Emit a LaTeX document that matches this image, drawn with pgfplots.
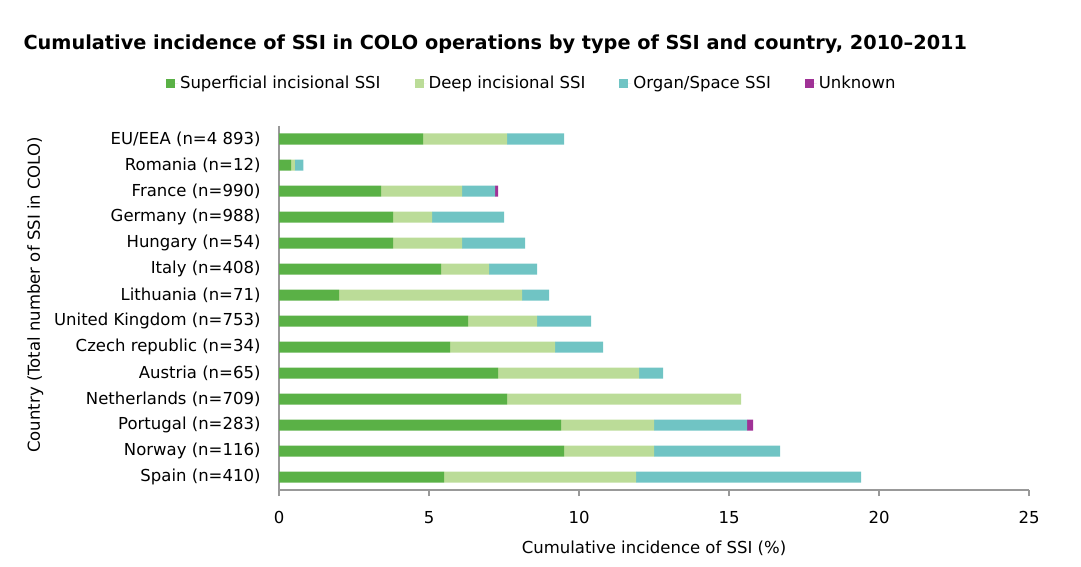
\documentclass[border=0pt]{standalone}
\usepackage{pgfplots}
\pgfplotsset{compat=1.18}
\usepackage{fontspec}
\setmainfont{DejaVu Sans}
\definecolor{cSup}{HTML}{5AB146}
\definecolor{cDeep}{HTML}{BBDC98}
\definecolor{cOrg}{HTML}{70C4C4}
\definecolor{cUnk}{HTML}{A03296}
\definecolor{cAx}{HTML}{999999}
\begin{document}
\begin{tikzpicture}[font=\fontsize{16.5}{19}\selectfont]
\path[use as bounding box] (0,0) rectangle (1081pt,567pt);
\node[anchor=west,font=\fontsize{19.3}{22}\selectfont\bfseries] at (20pt,523pt) {Cumulative incidence of SSI in COLO operations by type of SSI and country, 2010--2011};
\begin{axis}[
  at={(279pt,77pt)}, anchor=south west,
  scale only axis, width=750pt, height=364pt,
  xbar stacked, bar width=11pt,
  xmin=0, xmax=25, ymin=-0.5, ymax=13.5, y dir=reverse,
  axis x line*=bottom, axis y line*=left,
  axis line style={cAx, line width=1.2pt},
  xtick={0,5,...,25},
  ytick={0,...,13},
  yticklabels={EU/EEA (n=4 893),Romania (n=12),France (n=990),Germany (n=988),Hungary (n=54),Italy (n=408),Lithuania (n=71),United Kingdom (n=753),Czech republic (n=34),Austria (n=65),Netherlands (n=709),Portugal (n=283),Norway (n=116),Spain (n=410)},
  minor ytick={-0.5,0.5,...,13.5},
  tick align=outside,
  major tick length=6pt,
  minor tick length=6pt,
  xtick style={cAx, line width=1.2pt},
  ytick style={draw=none},
  minor tick style={draw=cAx, line width=1.2pt},
  yticklabel style={xshift=-9pt},
  xticklabel style={yshift=-12pt},
  /pgf/number format/assume math mode=true,
  ticklabel style={font=\fontsize{16.5}{19}\selectfont},
  xlabel={Cumulative incidence of SSI (\%)},
  xlabel style={at={(axis description cs:0.5,-0.159)}, anchor=center},
  ylabel={Country (Total number of SSI in COLO)},
  ylabel style={at={(axis description cs:-0.325,0.536)}, anchor=center},
  legend columns=4,
  legend style={at={(0.337,1.118)}, anchor=center, draw=none, font=\fontsize{16.5}{19}\selectfont,
    /tikz/every even column/.append style={column sep=32pt}},
  legend image code/.code={\fill[#1] (0pt,-4.5pt) rectangle (9pt,4.5pt); \path (0pt,0pt) -- (12pt,0pt);},
]
\addplot[fill=cSup, draw=none] coordinates {(4.8,0) (0.4,1) (3.4,2) (3.8,3) (3.8,4) (5.4,5) (2.0,6) (6.3,7) (5.7,8) (7.3,9) (7.6,10) (9.4,11) (9.5,12) (5.5,13)};
\addplot[fill=cDeep, draw=none] coordinates {(2.8,0) (0.13,1) (2.7,2) (1.3,3) (2.3,4) (1.6,5) (6.1,6) (2.3,7) (3.5,8) (4.7,9) (7.8,10) (3.1,11) (3.0,12) (6.4,13)};
\addplot[fill=cOrg, draw=none] coordinates {(1.9,0) (0.28,1) (1.1,2) (2.4,3) (2.1,4) (1.6,5) (0.9,6) (1.8,7) (1.6,8) (0.8,9) (0,10) (3.1,11) (4.2,12) (7.5,13)};
\addplot[fill=cUnk, draw=none] coordinates {(0,0) (0,1) (0.1,2) (0,3) (0,4) (0,5) (0,6) (0,7) (0,8) (0,9) (0,10) (0.2,11) (0,12) (0,13)};
\legend{Superficial incisional SSI, Deep incisional SSI, Organ/Space SSI, Unknown}
\end{axis}
\end{tikzpicture}
\end{document}
